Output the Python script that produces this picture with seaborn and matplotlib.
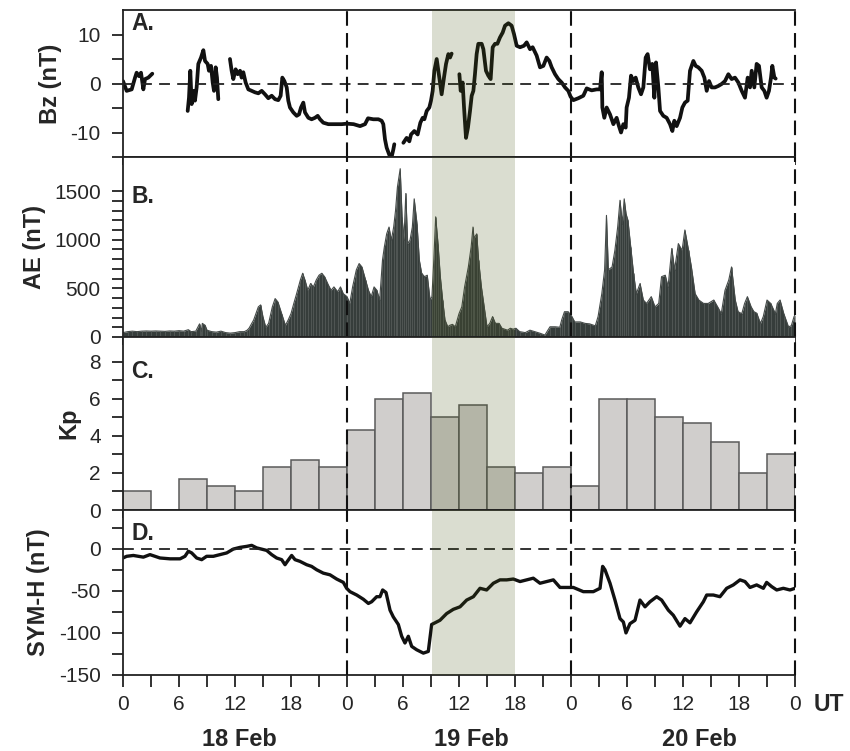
import numpy as np
import pandas as pd
import matplotlib
matplotlib.use("Agg")
import matplotlib.pyplot as plt
import matplotlib.transforms as mtransforms
from matplotlib.ticker import MultipleLocator, FixedLocator
import seaborn as sns

nan = np.nan

# --- IMF Bz (nT), hours from 18 Feb 00 UT, NaN = data gap ---
bz_hours = [0.0, 0.39, 0.93, 1.29, 1.46, 1.71, 1.93, 2.18, 2.36, 2.71, 3.14, nan,
            6.93, 7.07, 7.21, 7.36, 7.54, 7.71, 7.89, 8.07, 8.36, 8.61, 8.79, 9.07, 9.21,
            9.43, 9.61, 9.75, 9.93, 10.07, 10.21, nan,
            11.46, 11.64, 11.82, 12.07, 12.29, 12.54, 12.71, 12.89, 13.14, 13.43, 13.79,
            14.14, 14.5, 14.86, 15.21, 15.57, 15.93, 16.29, 16.64, 16.89, 17.07, 17.29,
            17.54, 17.71, 17.89, 18.25, 18.61, 18.86, 19.07, 19.32, 19.5, 19.86, 20.21,
            20.57, 20.86, 21.11, 21.46, 22.0, 22.71, 23.43, 24.0, 24.7, 25.4, 25.93,
            26.25, 26.82, 27.36, 27.71, 27.89, 28.07, 28.25, 28.54, 28.79, 28.96, 29.07, nan,
            30.04, 30.39, 30.68, 30.86, 31.21, 31.57, 31.86, 32.11, 32.29, 32.54, 32.82,
            33.0, 33.18, 33.36, 33.61, 33.89, 34.14, 34.39, 34.61, 34.86, 35.04, 35.21, nan,
            36.04, 36.18, 36.39, 36.54, 36.75, 36.96, 37.18, 37.36, 37.54, 37.71, 37.89,
            38.07, 38.43, 38.61, 38.89, 39.14, 39.39, 39.61, 39.86, 40.11, 40.39, 40.68,
            40.93, 41.29, 41.64, 41.89, 42.18, 42.54, 42.96, 43.25, 43.61, 43.89, 44.32,
            44.68, 45.04, 45.39, 45.68, 45.93, 46.29, 46.64, 47.0, 47.36, 47.71, 47.96,
            48.25, 48.79, 49.32, 49.68, 50.21, 50.75, 51.11, 51.29, 51.36, 51.57, 51.82,
            52.18, 52.54, 52.89, 53.14, 53.36, 53.61, 53.86, 53.96, 54.21, 54.43, 54.68,
            54.93, 55.21, 55.5, 55.75, 56.0, 56.21, 56.46, 56.71, 56.93, 57.11, 57.36,
            57.54, 57.89, 58.25, 58.61, 58.86, 59.07, 59.32, 59.68, 59.93, 60.21, 60.5,
            60.75, 61.11, 61.36, 61.64, 62.0, 62.29, 62.54, 62.79, 63.07, 63.43, 63.79,
            64.14, 64.5, 64.86, 65.21, 65.57, 65.93, 66.29, 66.64, 66.93, 67.18, 67.36,
            67.64, 67.89, 68.14, 68.43, 68.71, 68.96, 69.21, 69.43, 69.57, 69.79, 69.93]
bz_values = [0.5, -1.5, -1.2, 1.2, 2.2, 1.5, 2.2, -1.2, 0.9, 1.2, 2.0, nan,
             -5.6, -2.9, 2.6, -4.2, -1.5, -3.5, -0.8, 4.0, 5.3, 6.8, 4.6, 4.0, 2.6,
             3.6, 0.2, -1.5, 3.3, 1.2, -3.2, nan,
             5.0, 2.6, 0.9, 2.9, 1.9, 2.6, 1.2, 2.3, 0.2, -1.2, -1.5,
             -1.8, -2.0, -1.5, -2.2, -3.0, -2.5, -3.2, -3.4, -2.5, 1.2, 0.5,
             -0.8, -3.5, -4.9, -5.9, -6.6, -6.3, -4.9, -3.9, -5.9, -7.0, -7.3,
             -7.0, -6.6, -7.3, -8.0, -8.3, -8.3, -8.3, -8.2, -8.3, -8.7, -8.3,
             -7.1, -7.3, -7.3, -7.6, -8.3, -11.4, -13.1, -14.6, -14.9, -13.5, -12.4, nan,
             -12.1, -11.1, -11.8, -10.4, -9.7, -10.4, -8.0, -7.0, -7.3, -5.6, -4.9,
             -3.5, -1.5, 2.6, 5.0, 1.2, -2.2, 1.2, 4.0, 6.0, 5.3, 6.1, nan,
             1.9, -1.5, 0.2, -4.9, -11.1, -9.0, -5.6, -2.5, -1.5, 1.9, 6.0,
             8.1, 8.1, 7.0, 2.6, 1.6, 0.9, 7.4, 8.1, 8.1, 9.4, 10.4,
             11.8, 12.3, 11.8, 10.1, 7.7, 7.4, 7.7, 8.4, 7.0, 7.4, 5.7,
             3.3, 3.6, 5.3, 4.6, 3.3, 1.9, 0.9, 0.2, -0.8, -1.5, -2.7,
             -3.4, -3.0, -2.5, -1.0, -1.4, -1.2, -1.2, 2.3, -4.9, -7.0, -4.9,
             -6.3, -8.3, -7.0, -8.7, -10.0, -8.3, -9.0, -4.9, -2.9, 1.6, 0.5,
             1.2, -0.8, -2.2, -0.8, 5.3, 6.0, 2.9, 4.0, -2.9, 4.3, -0.8,
             -5.6, -6.6, -7.0, -8.3, -9.7, -7.6, -8.7, -7.0, -4.9, -3.9, -3.5,
             2.6, 4.6, 3.6, 3.3, 2.6, 1.2, -1.5, 0.5, -0.8, -0.8, -0.5,
             -0.1, 0.5, 1.9, 0.9, 1.2, 0.2, -1.5, -2.9, 1.2, -0.8, 2.6,
             -0.8, 4.0, 3.6, -0.8, -1.5, -2.9, -1.5, 1.2, 3.6, 1.2, 1.0]

# --- AE index (nT) ---
ae_hours = [0.0, 0.5, 1.0, 1.5, 2.0, 2.5, 3.0, 3.5, 4.0, 4.5, 5.0, 5.5, 6.0, 6.5, 7.0, 7.3,
            7.8, 8.2, 8.4, 8.5, 8.8, 9.0, 9.5, 10.0, 10.5, 11.0, 11.5, 12.0, 12.5, 13.0,
            13.3, 13.5, 14.0, 14.5, 14.75, 15.0, 15.3, 15.6, 16.0, 16.3, 16.6, 17.0, 17.4,
            17.7, 18.0, 18.3, 18.6, 19.0, 19.25, 19.5, 19.8, 20.1, 20.4, 20.7, 21.0, 21.3,
            21.6, 22.0, 22.3, 22.6, 23.0, 23.3, 23.6, 24.0, 24.3, 24.6, 25.0, 25.3, 25.6,
            26.0, 26.3, 26.6, 26.9, 27.2, 27.5, 27.8, 28.0, 28.25, 28.5, 28.75, 29.0, 29.2,
            29.4, 29.7, 29.9, 30.1, 30.3, 30.5, 30.75, 31.0, 31.2, 31.5, 31.75, 32.0, 32.3,
            32.6, 32.9, 33.1, 33.3, 33.5, 33.75, 34.0, 34.25, 34.5, 34.8, 35.0, 35.3, 35.6,
            36.0, 36.3, 36.6, 37.0, 37.3, 37.5, 37.6, 37.9, 38.1, 38.4, 38.7, 39.0, 39.3,
            39.6, 39.9, 40.3, 40.6, 41.2, 41.5, 41.8, 42.1, 42.5, 43.1, 43.6, 44.1, 44.7,
            45.2, 45.75, 46.3, 46.8, 47.0, 47.3, 47.7, 48.1, 48.4, 49.0, 49.5, 50.0, 50.6,
            50.9, 51.3, 51.6, 51.8, 52.0, 52.4, 52.7, 53.0, 53.25, 53.5, 53.7, 53.9, 54.1,
            54.4, 54.7, 55.0, 55.4, 55.75, 56.1, 56.6, 57.0, 57.4, 57.7, 58.1, 58.4, 58.8,
            59.1, 59.5, 59.9, 60.2, 60.6, 60.9, 61.3, 61.7, 62.2, 62.7, 63.3, 63.8, 64.1,
            64.5, 64.9, 65.2, 65.6, 65.9, 66.3, 66.6, 66.9, 67.3, 67.6, 67.9, 68.3, 68.6,
            69.0, 69.4, 69.9, 70.1, 70.4, 70.8, 71.3, 71.6, 71.9, 72.0]
ae_values = [45, 55, 60, 55, 60, 62, 60, 62, 60, 58, 62, 60, 65, 60, 75, 55,
             60, 135, 60, 140, 120, 70, 55, 50, 60, 45, 40, 45, 55, 55,
             70, 90, 175, 310, 330, 205, 100, 140, 310, 395, 360, 240, 120,
             175, 240, 345, 445, 585, 655, 585, 480, 550, 515, 585, 635, 655,
             620, 535, 480, 515, 465, 515, 445, 415, 345, 515, 690, 755, 720,
             585, 480, 415, 515, 480, 380, 790, 925, 1060, 1130, 995, 1130, 1300,
             1540, 1730, 1235, 995, 1475, 960, 995, 1130, 1420, 1165, 790, 655, 620,
             635, 380, 415, 790, 1235, 960, 620, 380, 175, 105, 120, 130, 105,
             240, 310, 515, 720, 925, 1130, 1015, 1060, 790, 515, 310, 105, 140,
             210, 140, 140, 90, 70, 90, 80, 90, 55, 45, 70, 55, 38,
             20, 105, 105, 100, 175, 260, 260, 210, 155, 155, 140, 135, 115,
             210, 445, 690, 1250, 690, 720, 890, 1130, 1405, 1165, 1420, 1265, 1200,
             925, 655, 445, 550, 380, 345, 415, 310, 345, 620, 635, 515, 910,
             690, 960, 890, 1100, 890, 720, 445, 380, 345, 345, 380, 295, 240,
             480, 585, 720, 380, 260, 240, 345, 415, 310, 260, 245, 140, 210,
             380, 345, 240, 345, 380, 240, 105, 115, 210, 225]

# --- Kp index, 3-hour intervals (start hour) ---
kp_start = [0, 3, 6, 9, 12, 15, 18, 21, 24, 27, 30, 33, 36, 39, 42, 45,
            48, 51, 54, 57, 60, 63, 66, 69]
kp_values = [1.0, nan, 1.7, 1.3, 1.0, 2.3, 2.7, 2.3, 4.3, 6.0, 6.3, 5.0, 5.7, 2.3, 2.0, 2.3,
             1.3, 6.0, 6.0, 5.0, 4.7, 3.7, 2.0, 3.0]

# --- SYM-H (nT) ---
symh_hours = [0.0, 0.39, 1.11, 2.18, 2.89, 3.96, 5.04, 6.11, 6.64, 7.0, 7.36, 7.89, 8.43,
              8.96, 9.68, 10.39, 11.11, 11.82, 12.54, 13.25, 13.79, 14.32, 15.04, 15.39,
              15.93, 16.46, 17.0, 17.36, 17.61, 18.07, 18.43, 18.96, 19.68, 20.21, 20.75,
              21.46, 22.18, 22.89, 23.61, 23.96, 24.32, 25.04, 25.75, 26.29, 26.64, 27.18,
              27.54, 27.82, 28.18, 28.61, 28.96, 29.5, 29.86, 30.21, 30.57, 30.93, 31.46,
              31.82, 32.18, 32.71, 33.07, 33.43, 33.96, 34.68, 35.39, 36.11, 36.82, 37.54,
              38.25, 38.96, 39.68, 40.39, 41.11, 41.82, 42.54, 43.25, 43.96, 44.68, 45.39,
              46.11, 46.82, 47.54, 48.25, 49.32, 50.39, 51.11, 51.39, 51.64, 52.18, 52.71,
              53.25, 53.61, 53.89, 54.32, 54.86, 55.39, 55.93, 56.46, 57.18, 57.71, 58.43,
              58.96, 59.68, 60.21, 60.75, 61.46, 62.18, 62.54, 63.25, 63.96, 64.68, 65.39,
              66.11, 66.64, 67.18, 67.89, 68.61, 68.96, 69.5, 70.04, 70.75, 71.46, 72.0]
symh_values = [-11, -9, -8, -10, -7, -11, -12, -12, -9, -3, -5, -11, -13,
               -9, -9, -7, -5, -0.4, 1.6, 2.8, 4, 1, -1, -2,
               -7, -11, -13, -19, -15, -8, -13, -15, -19, -21, -25,
               -29, -31, -36, -40, -47, -51, -55, -60, -65, -63, -57,
               -57, -49, -52, -73, -81, -90, -104, -112, -104, -116, -120,
               -122, -124, -122, -90, -88, -85, -77, -72, -69, -61, -57,
               -47, -49, -41, -37, -37, -36, -39, -37, -35, -41, -39,
               -37, -46, -46, -46, -51, -51, -47, -21, -25, -41, -61,
               -83, -87, -100, -89, -85, -61, -69, -63, -57, -61, -73,
               -79, -92, -83, -88, -75, -63, -55, -55, -57, -47, -43,
               -37, -39, -46, -43, -47, -40, -45, -49, -47, -49, -47]

hour_labels = ["0", "6", "12", "18", "0", "6", "12", "18", "0", "6", "12", "18", "0"]
day_labels = ["18 Feb", "19 Feb", "20 Feb"]
day_centres = [12.5, 37.3, 61.8]
day_starts = [24, 48, 72]
storm_window = (33.1, 42.0)


def segments(hours, values, name):
    df = pd.DataFrame({"hour": hours, name: values})
    df["seg"] = df[name].isna().cumsum()
    return df.dropna()


sns.set_theme(style="ticks")
plt.rcParams["font.family"] = ["Liberation Sans", "DejaVu Sans"]
plt.rcParams["axes.edgecolor"] = "#222222"
plt.rcParams["axes.linewidth"] = 1.3
plt.rcParams["axes.unicode_minus"] = False
plt.rcParams["xtick.labelsize"] = 15
plt.rcParams["ytick.labelsize"] = 15

W, H = 850, 751
fig = plt.figure(figsize=(W / 100, H / 100), dpi=100)


def rect(top, bottom):
    return [123 / W, 1 - bottom / H, 672 / W, (bottom - top) / H]


ax_bz = fig.add_axes(rect(10, 157))
ax_ae = fig.add_axes(rect(157, 337))
ax_kp = fig.add_axes(rect(337, 510))
ax_sym = fig.add_axes(rect(510, 675))
axes = [ax_bz, ax_ae, ax_kp, ax_sym]

# A. Bz
bz_df = segments(bz_hours, bz_values, "bz")
sns.lineplot(data=bz_df, x="hour", y="bz", units="seg", estimator=None, sort=False,
             color="#111111", lw=2.7, ax=ax_bz)
ax_bz.set_ylim(-15, 15)
ax_bz.yaxis.set_major_locator(FixedLocator([-10, 0, 10]))
ax_bz.yaxis.set_minor_locator(FixedLocator([-15, -5, 5]))
ax_bz.axhline(0, color="#222222", lw=1.3, dashes=(6, 4))
ax_bz.set_ylabel("Bz (nT)")

# B. AE
ax_ae.fill_between(ae_hours, ae_values, color="#363d3b", lw=0)
ax_ae.vlines(ae_hours, 0, ae_values, color="#5b605e", lw=0.5)
ax_ae.plot(ae_hours, ae_values, color="#444a48", lw=0.8)
ax_ae.set_ylim(0, 1850)
ax_ae.yaxis.set_major_locator(FixedLocator([0, 500, 1000, 1500]))
ax_ae.yaxis.set_minor_locator(FixedLocator([v for v in range(100, 1500, 100) if v % 500]))
ax_ae.set_ylabel("AE (nT)")

# C. Kp
kp_df = pd.DataFrame({"start": kp_start, "kp": kp_values}).dropna()
ax_kp.bar(kp_df["start"], kp_df["kp"], width=3, align="edge",
          color="#d0cecc", edgecolor="#5a5a5a", lw=1.1, zorder=2)
ax_kp.set_ylim(0, 9.35)
ax_kp.yaxis.set_major_locator(FixedLocator([0, 2, 4, 6, 8]))
ax_kp.yaxis.set_minor_locator(FixedLocator([1, 3, 5, 7]))
ax_kp.set_ylabel("Kp")

# D. SYM-H
sym_df = pd.DataFrame({"hour": symh_hours, "symh": symh_values})
sns.lineplot(data=sym_df, x="hour", y="symh", estimator=None, sort=False,
             color="#111111", lw=2.4, ax=ax_sym)
ax_sym.set_ylim(-150, 46)
ax_sym.yaxis.set_major_locator(FixedLocator([-150, -100, -50, 0]))
ax_sym.yaxis.set_minor_locator(FixedLocator([-125, -75, -25, 25]))
ax_sym.axhline(0, color="#222222", lw=1.3, dashes=(6, 4))
ax_sym.set_ylabel("SYM-H (nT)")

letter_y = {"A.": 0.91, "B.": 0.78, "C.": 0.8, "D.": 0.86}
for ax, letter in zip(axes, ["A.", "B.", "C.", "D."]):
    ax.set_xlim(0, 72)
    ax.xaxis.set_major_locator(MultipleLocator(6))
    ax.xaxis.set_minor_locator(MultipleLocator(3))
    ax.set_xlabel("")
    ax.tick_params(axis="x", which="both", direction="out", length=6, width=1.3,
                   color="#222222", labelbottom=False)
    ax.tick_params(axis="y", which="both", direction="out", length=8, width=1.3,
                   color="#222222", pad=8, labelsize=15)
    ax.yaxis.label.set_fontsize(17)
    ax.yaxis.label.set_fontweight("bold")
    ax.yaxis.labelpad = 6
    ax.spines["right"].set_visible(False)
    for d in day_starts:
        ax.axvline(d, color="#111111", lw=1.5, dashes=(7, 3.5), clip_on=False, zorder=3)
    ax.axvspan(*storm_window, color="#465514", alpha=0.2, lw=0, zorder=6)
    ax.text(0.012, letter_y[letter], letter, transform=ax.transAxes,
            ha="left", va="center", fontsize=16.5, fontweight="bold")

ax_sym.tick_params(axis="x", which="both", length=8.5, labelbottom=True,
                   labelsize=15, pad=6)
ax_sym.set_xticks(np.arange(0, 73, 6))
ax_sym.set_xticklabels(hour_labels, fontsize=15)

trans = mtransforms.blended_transform_factory(ax_sym.transData, ax_sym.transAxes)
for centre, lab in zip(day_centres, day_labels):
    ax_sym.text(centre, -0.39, lab, transform=trans, ha="center", va="center",
                fontsize=17, fontweight="bold")
ax_sym.text(1.05, -0.18, "UT", transform=ax_sym.transAxes, ha="center", va="center",
            fontsize=16.5, fontweight="bold")

fig.savefig("out.png", dpi=100)
